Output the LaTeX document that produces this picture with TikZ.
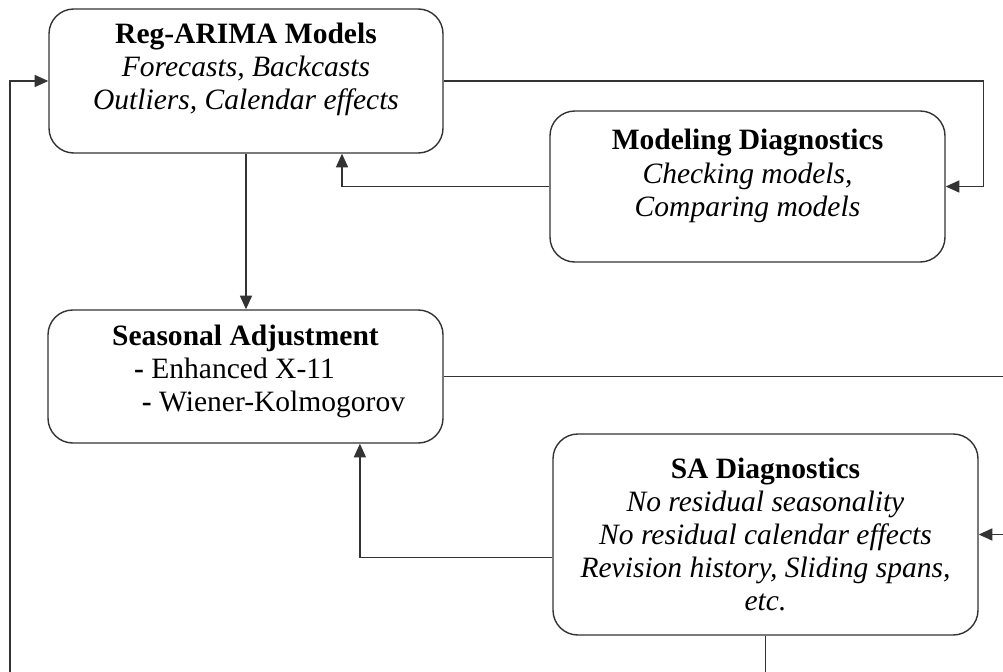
\documentclass[tikz,border=0pt]{standalone}
\usepackage{fontspec}
\setmainfont{Liberation Serif}
\usetikzlibrary{arrows.meta}
\newcommand{\lift}[1]{\rule[-#1]{0pt}{#1}}

\begin{document}
\begin{tikzpicture}[every node/.style={font=\fontsize{21}{23.6}\selectfont}, blk/.style={draw=black!80, line width=1pt, rounded corners=0.62cm, align=center, inner sep=0pt}, arr/.style={draw=black!80, line width=1pt, -{Triangle[length=3.4mm,width=3mm]}}]
	\useasboundingbox (0,0) rectangle (25.075,-16.8);
	\node[blk, minimum width=9.85cm, minimum height=3.6cm] (reg) at (6.15,-2.025) {\textbf{Reg-ARIMA Models}\\ \textit{Forecasts, Backcasts}\\ \textit{Outliers, Calendar effects}\lift{0.75cm}};
	\node[blk, minimum width=9.875cm, minimum height=3.775cm] (moddiag) at (18.6875,-4.6625) {\textbf{Modeling Diagnostics}\\ \textit{Checking models,}\\ \textit{Comparing models}\lift{0.68cm}};
	\node[blk, minimum width=9.875cm, minimum height=3.325cm] (sa) at (6.1375,-9.4125) {\textbf{Seasonal Adjustment}\\ \textbf{-} Enhanced X-11\hspace*{0.55cm}\mbox{}\\ \hspace*{1.4cm}\textbf{-} Wiener-Kolmogorov\lift{0.42cm}};
	\node[blk, minimum width=10.625cm, minimum height=5.025cm] (sadiag) at (19.1375,-13.3625) {\textbf{SA Diagnostics}\\ \textit{No residual seasonality}\\ \textit{No residual calendar effects}\\ \textit{Revision history, Sliding spans,}\\ \textit{etc.}};
	\coordinate (rim) at (25.075,0);
	\coordinate (floor) at (0,-16.8);
	\coordinate (lft) at (0.25,-16.8);
	\draw[arr] (reg.east) -| ([xshift=0.95cm]moddiag.east) -- (moddiag.east);
	\draw[arr] (moddiag.west) -| ([xshift=2.4cm]reg.south);
	\draw[arr] (reg.south) -- (reg.south |- sa.north);
	\draw[draw=black!80, line width=1pt] (sa.east) -- (sa.east -| rim);
	\draw[arr] (sadiag.east -| rim) -- (sadiag.east);
	\draw[arr] ([yshift=-0.575cm]sadiag.west) -| ([xshift=2.86cm]sa.south);
	\draw[draw=black!80, line width=1pt] (sadiag.south) -- (sadiag.south |- floor);
	\draw[arr] (lft) |- (reg.west);
\end{tikzpicture}
\end{document}
